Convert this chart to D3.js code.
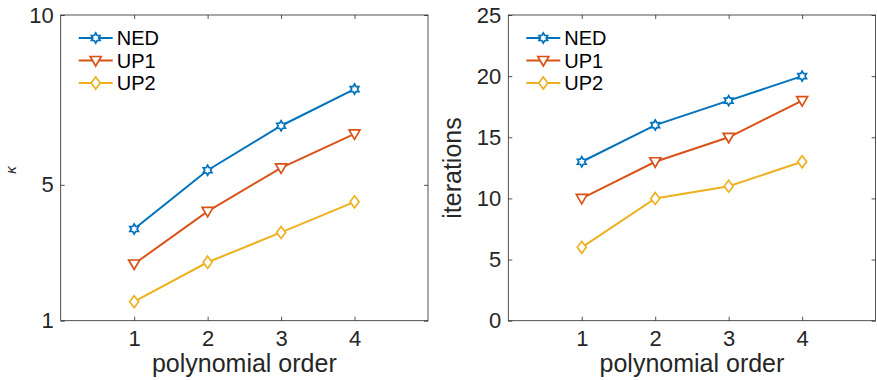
<!DOCTYPE html>
<html>
<head>
<meta charset="utf-8">
<script src="https://cdn.jsdelivr.net/npm/d3@7"></script>
<style>
  body { margin: 0; background: #fff; }
  svg { font-family: "Liberation Sans", Arial, Helvetica, sans-serif; }
</style>
</head>
<body>
<svg width="877" height="380"></svg>
<script>
let orders = [1, 2, 3, 4]
let seriesNames = ['NED', 'UP1', 'UP2']

// condition number per polynomial order
let kappaNED = [3.70, 5.43, 6.74, 7.82]
let kappaUP1 = [2.67, 4.22, 5.50, 6.50]
let kappaUP2 = [1.56, 2.72, 3.60, 4.50]

// solver iterations per polynomial order
let iterNED = [13, 16, 18, 20]
let iterUP1 = [10, 13, 15, 18]
let iterUP2 = [6, 10, 11, 13]

let kappaTicks = [1, 5, 10]
let iterTicks = [0, 5, 10, 15, 20, 25]
let xTicks = [1, 2, 3, 4]

let colors = ['#0072BD', '#D95319', '#EDB120']
let markers = ['star', 'tri', 'diamond']
let axisColor = '#262626'

let svg = d3.select('svg')

const markerPath = (type) => {
    if (type === 'diamond') {
        return 'M0,-6L4.5,0L0,6L-4.5,0Z'
    }
    if (type === 'tri') {
        return 'M-5.5,-4L5.5,-4L0,5.5Z'
    }
    // six point star made of two triangles
    let r = 5
    let pts = []
    for (let i = 0; i < 12; i++) {
        let rr = i % 2 === 0 ? r : r * 0.58
        let a = Math.PI / 6 * i - Math.PI / 2
        pts.push([rr * Math.cos(a), rr * Math.sin(a)])
    }
    return 'M' + pts.map(p => p[0].toFixed(2) + ',' + p[1].toFixed(2)).join('L') + 'Z'
}

const drawPanel = (opts) => {
    let g = svg.append('g')
    let left = opts.left, right = opts.right, top = 15, bottom = 320.7

    let xScale = d3.scaleLinear().domain([0, 5]).range([left, right])
    let yScale = d3.scaleLinear().domain(opts.yDomain).range([bottom, top])

    // box
    g.append('rect')
        .attr('x', left).attr('y', top)
        .attr('width', right - left).attr('height', bottom - top)
        .attr('fill', 'none').attr('stroke', axisColor).attr('stroke-width', 0.8)

    let xAxis = d3.axisBottom(xScale).tickValues(xTicks).tickSize(-4).tickPadding(10).tickFormat(d3.format('d'))
    let yAxis = d3.axisLeft(yScale).tickValues(opts.yTicks).tickSize(-4).tickPadding(7).tickFormat(d3.format('d'))
    let xAxisTop = d3.axisTop(xScale).tickValues(xTicks).tickSize(-4).tickFormat('')
    let yAxisRight = d3.axisRight(yScale).tickValues(opts.yTicks).tickSize(-4).tickFormat('')

    let styleAxis = (sel) => {
        sel.select('.domain').remove()
        sel.selectAll('line').attr('stroke', axisColor).attr('stroke-width', 0.8)
        sel.selectAll('text').attr('fill', '#262626').style('font-size', '22px')
            .style('font-family', '"Liberation Sans", Arial, sans-serif')
    }

    g.append('g').attr('transform', 'translate(0,' + bottom + ')').call(xAxis).call(styleAxis)
    g.append('g').attr('transform', 'translate(' + left + ',0)').call(yAxis).call(styleAxis)
    g.append('g').attr('transform', 'translate(0,' + top + ')').call(xAxisTop).call(styleAxis)
    g.append('g').attr('transform', 'translate(' + right + ',0)').call(yAxisRight).call(styleAxis)

    let line = d3.line()
        .x((d, i) => xScale(orders[i]))
        .y(d => yScale(d))

    opts.series.forEach((values, s) => {
        g.append('path')
            .datum(values)
            .attr('d', line)
            .attr('fill', 'none')
            .attr('stroke', colors[s])
            .attr('stroke-width', 2)

        g.selectAll('.m' + s)
            .data(values)
            .enter()
            .append('path')
            .attr('class', 'm' + s)
            .attr('d', markerPath(markers[s]))
            .attr('transform', (d, i) => 'translate(' + xScale(orders[i]) + ',' + yScale(d) + ')')
            .attr('fill', '#fff')
            .attr('stroke', colors[s])
            .attr('stroke-width', 1.7)
    })

    // legend
    let lx = left + 18
    seriesNames.forEach((name, s) => {
        let ly = 38 + s * 22.5
        g.append('line')
            .attr('x1', lx).attr('x2', lx + 34)
            .attr('y1', ly).attr('y2', ly)
            .attr('stroke', colors[s]).attr('stroke-width', 2)
        g.append('path')
            .attr('d', markerPath(markers[s]))
            .attr('transform', 'translate(' + (lx + 17) + ',' + ly + ')')
            .attr('fill', '#fff')
            .attr('stroke', colors[s])
            .attr('stroke-width', 1.7)
        g.append('text')
            .attr('x', lx + 38).attr('y', ly + 7)
            .attr('fill', '#000')
            .style('font-size', '20px')
            .text(name)
    })

    // x label
    g.append('text')
        .attr('x', (left + right) / 2)
        .attr('y', 372)
        .attr('text-anchor', 'middle')
        .attr('fill', '#262626')
        .style('font-size', '25px')
        .text('polynomial order')

    // y label
    g.append('text')
        .attr('transform', 'translate(' + opts.yLabelX + ',' + opts.yLabelY + ') rotate(-90)')
        .attr('text-anchor', 'middle')
        .attr('fill', '#262626')
        .style('font-size', opts.yLabelSize)
        .style('font-style', opts.yLabelItalic ? 'italic' : 'normal')
        .text(opts.yLabel)
}

drawPanel({
    left: 60.7, right: 428,
    yDomain: [1, 10], yTicks: kappaTicks,
    series: [kappaNED, kappaUP1, kappaUP2],
    yLabel: 'κ', yLabelX: 16, yLabelY: 170, yLabelSize: '15px', yLabelItalic: true
})

drawPanel({
    left: 508.3, right: 875.6,
    yDomain: [0, 25], yTicks: iterTicks,
    series: [iterNED, iterUP1, iterUP2],
    yLabel: 'iterations', yLabelX: 461, yLabelY: 168, yLabelSize: '25px', yLabelItalic: false
})
</script>
</body>
</html>
